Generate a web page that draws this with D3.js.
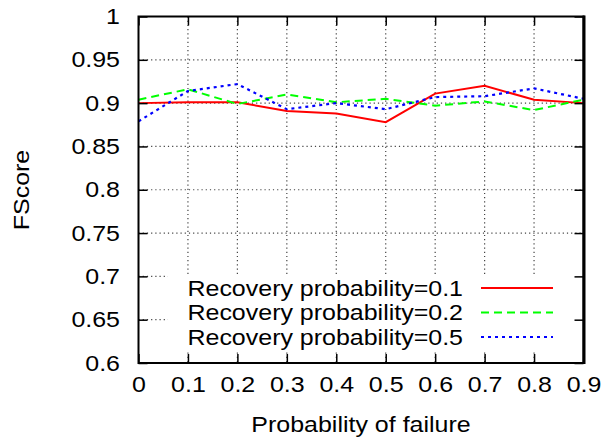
<!DOCTYPE html>
<html>
<head>
<meta charset="utf-8">
<script src="https://cdn.jsdelivr.net/npm/d3@7"></script>
<style>
  body { margin: 0; background: #fff; }
  text { font-family: "Liberation Sans", Arial, sans-serif; fill: #000; }
</style>
</head>
<body>
<div id="chart"></div>
<script>
// Data
var failureProb = [0, 0.1, 0.2, 0.3, 0.4, 0.5, 0.6, 0.7, 0.8, 0.9];
var recovery01 = [0.900, 0.901, 0.901, 0.891, 0.888, 0.878, 0.911, 0.920, 0.904, 0.900];
var recovery02 = [0.904, 0.916, 0.899, 0.910, 0.901, 0.905, 0.897, 0.902, 0.892, 0.904];
var recovery05 = [0.879, 0.914, 0.922, 0.893, 0.900, 0.893, 0.907, 0.908, 0.917, 0.905];
var seriesNames = ["Recovery probability=0.1", "Recovery probability=0.2", "Recovery probability=0.5"];
var xTickLabels = ["0", "0.1", "0.2", "0.3", "0.4", "0.5", "0.6", "0.7", "0.8", "0.9"];
var yTickValues = [0.6, 0.65, 0.7, 0.75, 0.8, 0.85, 0.9, 0.95, 1];
var yTickLabels = ["0.6", "0.65", "0.7", "0.75", "0.8", "0.85", "0.9", "0.95", "1"];

var W = 607, H = 439;
var margin = { top: 16.5, right: 23.5, bottom: 76, left: 138.5 },
    width = W - margin.left - margin.right,
    height = H - margin.top - margin.bottom;
var fontSize = "22px";

var x = d3.scaleLinear().domain([0, 0.9]).range([0, width]);
var y = d3.scaleLinear().domain([0.6, 1]).range([height, 0]);

var svg = d3.select("#chart").append("svg")
    .attr("width", W)
    .attr("height", H);

var g = svg.append("g")
    .attr("transform", "translate(" + margin.left + "," + margin.top + ")");

// grid lines (dotted)
var grid = g.append("g").attr("class", "grid");
grid.selectAll(".vgrid")
    .data(failureProb.slice(1, -1))
    .enter().append("line")
    .attr("x1", function (d) { return x(d); })
    .attr("x2", function (d) { return x(d); })
    .attr("y1", 0).attr("y2", height)
    .attr("stroke", "#444").attr("stroke-width", 1.2)
    .attr("stroke-dasharray", "1.2,3");
grid.selectAll(".hgrid")
    .data(yTickValues.slice(1, -1))
    .enter().append("line")
    .attr("y1", function (d) { return y(d); })
    .attr("y2", function (d) { return y(d); })
    .attr("x1", 0).attr("x2", width)
    .attr("stroke", "#444").attr("stroke-width", 1.2)
    .attr("stroke-dasharray", "1.2,3");

// series
var styles = [
    { color: "#ff0000", dash: null, width: 2 },
    { color: "#00ff00", dash: "8,5", width: 2 },
    { color: "#0000ff", dash: "3,4", width: 2.2 }
];
var allSeries = [recovery01, recovery02, recovery05];

var line = d3.line()
    .x(function (d, i) { return x(failureProb[i]); })
    .y(function (d) { return y(d); });

allSeries.forEach(function (s, k) {
    g.append("path")
        .datum(s)
        .attr("fill", "none")
        .attr("stroke", styles[k].color)
        .attr("stroke-width", styles[k].width)
        .attr("stroke-dasharray", styles[k].dash)
        .attr("d", line);
});

// legend (opaque box over the grid)
var legend = g.append("g").attr("class", "legend");
legend.append("rect")
    .attr("x", 168 - margin.left)
    .attr("y", 274 - margin.top)
    .attr("width", width - (168 - margin.left))
    .attr("height", 352 - 274)
    .attr("fill", "#fff");

var rowY = [288, 312.5, 337];
seriesNames.forEach(function (name, k) {
    var ry = rowY[k] - margin.top;
    legend.append("text")
        .attr("x", 463 - margin.left)
        .attr("y", ry)
        .attr("dy", "0.36em")
        .attr("text-anchor", "end")
        .style("font-size", fontSize)
        .text(name);
    legend.append("line")
        .attr("x1", 481 - margin.left)
        .attr("x2", 553 - margin.left)
        .attr("y1", ry).attr("y2", ry)
        .attr("stroke", styles[k].color)
        .attr("stroke-width", styles[k].width)
        .attr("stroke-dasharray", styles[k].dash);
});

// axes with inward ticks
var xAxis = d3.axisBottom(x)
    .tickValues(failureProb)
    .tickFormat(function (d, i) { return xTickLabels[i]; })
    .tickSize(-9)
    .tickPadding(13.5);
var yAxis = d3.axisLeft(y)
    .tickValues(yTickValues)
    .tickFormat(function (d, i) { return yTickLabels[i]; })
    .tickSize(-9)
    .tickPadding(18.5);

function styleAxis(sel) {
    sel.select(".domain").remove();
    sel.selectAll(".tick line").attr("stroke", "#000").attr("stroke-width", 1.5);
    sel.selectAll("text").style("font-size", fontSize).attr("fill", "#000");
}

g.append("g")
    .attr("transform", "translate(0," + height + ")")
    .call(xAxis)
    .call(styleAxis);
g.append("g")
    .call(yAxis)
    .call(styleAxis);
g.append("g")
    .call(d3.axisTop(x).tickValues(failureProb).tickFormat("").tickSize(-9))
    .call(styleAxis);
g.append("g")
    .attr("transform", "translate(" + width + ",0)")
    .call(d3.axisRight(y).tickValues(yTickValues).tickFormat("").tickSize(-9))
    .call(styleAxis);

// frame
g.append("rect")
    .attr("width", width).attr("height", height)
    .attr("fill", "none").attr("stroke", "#000").attr("stroke-width", 2);
g.append("line")
    .attr("x1", width + 0.5).attr("x2", width + 0.5)
    .attr("y1", -1).attr("y2", height + 1)
    .attr("stroke", "#000").attr("stroke-width", 3);

// axis titles
svg.append("text")
    .attr("x", margin.left + width / 2)
    .attr("y", 432)
    .attr("text-anchor", "middle")
    .style("font-size", fontSize)
    .text("Probability of failure");
svg.append("text")
    .attr("transform", "translate(29,190) rotate(-90)")
    .attr("text-anchor", "middle")
    .style("font-size", fontSize)
    .text("FScore");

// the reference glyphs are a little wider than they are tall
svg.selectAll("text").each(function () {
    var t = d3.select(this);
    if (!t.text()) return;
    var len = this.getComputedTextLength();
    t.attr("textLength", len * 1.135).attr("lengthAdjust", "spacingAndGlyphs");
});
</script>
</body>
</html>
